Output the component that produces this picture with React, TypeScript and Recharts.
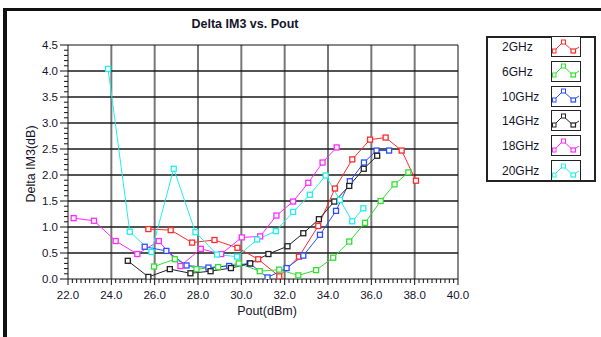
import React from 'react';
import { LineChart, Line, XAxis, YAxis, CartesianGrid } from 'recharts';

// axis ticks
const poutMajor = [22, 24, 26, 28, 30, 32, 34, 36, 38, 40];
const im3Major = [0, 0.5, 1, 1.5, 2, 2.5, 3, 3.5, 4, 4.5];
const poutMinor = Array.from({ length: 91 }, (_, i) => +(22 + i * 0.2).toFixed(1));
const im3Minor = Array.from({ length: 46 }, (_, i) => +(i * 0.1).toFixed(1));

// 2GHz
const pout2 = [25.71, 26.74, 27.73, 28.76, 29.82, 30.78, 31.75, 32.66, 33.55, 34.32, 35.12, 35.94, 36.66, 37.4, 38.06];
const im3_2 = [0.96, 0.94, 0.7, 0.75, 0.6, 0.38, 0.05, 0.43, 1.02, 1.74, 2.3, 2.68, 2.72, 2.47, 1.89];
// 6GHz
const pout6 = [25.97, 26.93, 27.93, 28.93, 29.88, 30.85, 31.75, 32.63, 33.45, 34.24, 34.98, 35.71, 36.43, 37.07, 37.71];
const im3_6 = [0.24, 0.38, 0.19, 0.23, 0.3, 0.15, 0.18, 0.07, 0.17, 0.41, 0.72, 1.08, 1.5, 1.82, 2.05];
// 10GHz
const pout10 = [25.54, 26.54, 27.47, 28.48, 29.44, 30.38, 31.21, 32.09, 32.86, 33.63, 34.37, 35.01, 35.66, 36.24, 36.82];
const im3_10 = [0.62, 0.54, 0.26, 0.22, 0.25, 0.3, 0.03, 0.21, 0.45, 0.85, 1.31, 1.88, 2.24, 2.47, 2.47];
// 14GHz
const pout14 = [24.76, 25.71, 26.7, 27.65, 28.58, 29.52, 30.41, 31.25, 32.13, 32.86, 33.58, 34.29, 34.98, 35.65, 36.27];
const im3_14 = [0.35, 0.04, 0.19, 0.11, 0.15, 0.21, 0.3, 0.48, 0.63, 0.88, 1.15, 1.49, 1.79, 2.12, 2.37];
// 18GHz
const pout18 = [22.26, 23.2, 24.2, 25.2, 26.19, 27.19, 28.13, 29.07, 30.02, 30.87, 31.62, 32.39, 33.09, 33.75, 34.4];
const im3_18 = [1.17, 1.12, 0.73, 0.48, 0.73, 0.25, 0.58, 0.48, 0.8, 0.82, 1.22, 1.49, 1.85, 2.24, 2.53];
// 20GHz
const pout20 = [23.85, 24.85, 25.85, 26.88, 27.88, 28.88, 29.8, 30.73, 31.59, 32.39, 33.16, 33.89, 34.55, 35.12, 35.63];
const im3_20 = [4.04, 0.91, 0.52, 2.12, 0.9, 0.47, 0.43, 0.76, 0.92, 1.29, 1.62, 1.99, 1.52, 1.11, 1.36];

const toPoints = (xs: number[], ys: number[]) => xs.map((x, i) => ({ pout: x, im3: ys[i] }));

const series = [
  { name: '2GHz', color: '#ff2a2a', data: toPoints(pout2, im3_2) },
  { name: '6GHz', color: '#30e030', data: toPoints(pout6, im3_6) },
  { name: '10GHz', color: '#2a4cff', data: toPoints(pout10, im3_10) },
  { name: '14GHz', color: '#222222', data: toPoints(pout14, im3_14) },
  { name: '18GHz', color: '#ff2aff', data: toPoints(pout18, im3_18) },
  { name: '20GHz', color: '#22eeee', data: toPoints(pout20, im3_20) },
];

const font = '"Liberation Sans", Arial, sans-serif';
const textColor = '#15152a';

const isMajor = (v: number, step: number) => Math.abs(v / step - Math.round(v / step)) < 1e-6;

const XTick = (props: any) => {
  const { x, y, payload } = props;
  const major = isMajor(payload.value, 2);
  return (
    <g>
      <line x1={x} x2={x} y1={y} y2={y + (major ? 6 : 4)} stroke="#111" />
      {major && (
        <text x={x} y={y + 20} textAnchor="middle" fontSize={11.5} fontFamily={font} fill={textColor}>
          {payload.value.toFixed(1)}
        </text>
      )}
    </g>
  );
};

const YTick = (props: any) => {
  const { x, y, payload } = props;
  const major = isMajor(payload.value, 0.5);
  return (
    <g>
      <line x1={x - (major ? 8 : 4)} x2={x} y1={y} y2={y} stroke="#111" />
      {major && (
        <text x={x - 10} y={y + 4} textAnchor="end" fontSize={11.5} fontFamily={font} fill={textColor}>
          {payload.value.toFixed(1)}
        </text>
      )}
    </g>
  );
};

const makeDot = (color: string) => (p: any) => (
  <rect key={p.index} x={p.cx - 2.5} y={p.cy - 2.5} width={5} height={5} fill="#fff" stroke={color} strokeWidth={1.3} />
);

const LegendIcon = ({ color }: { color: string }) => (
  <svg width={30} height={21} style={{ display: 'block' }}>
    <polyline points="3,15 12,6 22,15 28,11" fill="none" stroke={color} strokeWidth={1} />
    <rect x={1.5} y={13} width={3.5} height={4} fill="#fff" stroke={color} strokeWidth={1} />
    <rect x={10.5} y={4} width={4} height={4} fill="#fff" stroke={color} strokeWidth={1} />
    <rect x={20} y={13} width={4.5} height={4} fill="#fff" stroke={color} strokeWidth={1.2} />
  </svg>
);

const App = () => {
  return (
    <div style={{ position: 'absolute', left: 0, top: 0, width: 601, height: 337, overflow: 'hidden', background: '#fff', fontFamily: font }}>
      {/* outer frame */}
      <div style={{ position: 'absolute', left: 3, top: 8, width: 700, height: 400, borderLeft: '4px solid #111', borderTop: '3px solid #111' }} />

      <div style={{ position: 'absolute', left: 0, top: 0 }}>
        <LineChart width={601} height={337} margin={{ top: 45, right: 143, bottom: 0, left: 0 }}>
          <CartesianGrid horizontal={false} verticalValues={poutMajor.slice(1, -1)} stroke="#777" strokeWidth={2} />
          <CartesianGrid vertical={false} horizontalValues={im3Major.slice(1, -1)} stroke="#1a1a1a" strokeWidth={1.5} />
          {/* plot frame: top and right edges */}
          <CartesianGrid
            horizontalValues={im3Major.slice(-1)}
            verticalValues={poutMajor.slice(-1)}
            stroke="#111"
            strokeWidth={1}
          />
          <XAxis
            dataKey="pout"
            type="number"
            domain={[22, 40]}
            ticks={poutMinor}
            interval={0}
            allowDataOverflow
            height={58}
            tickSize={0}
            tickMargin={0}
            tick={<XTick />}
            axisLine={{ stroke: '#111' }}
          />
          <YAxis
            dataKey="im3"
            type="number"
            domain={[0, 4.5]}
            ticks={im3Minor}
            interval={0}
            allowDataOverflow
            width={68}
            tickSize={0}
            tickMargin={0}
            tick={<YTick />}
            axisLine={{ stroke: '#111' }}
          />
          {series.map((s) => (
            <Line
              key={s.name}
              data={s.data}
              dataKey="im3"
              type="linear"
              stroke={s.color}
              strokeWidth={1}
              dot={makeDot(s.color)}
              activeDot={false}
              isAnimationActive={false}
            />
          ))}
        </LineChart>
      </div>

      {/* title and axis labels */}
      <div style={{ position: 'absolute', left: 145, width: 200, top: 17, textAlign: 'center', fontWeight: 'bold', fontSize: 12.5, color: textColor }}>
        Delta IM3 vs. Pout
      </div>
      <div style={{ position: 'absolute', left: 167, width: 200, top: 304, textAlign: 'center', fontSize: 12.5, color: textColor }}>
        Pout(dBm)
      </div>
      <div
        style={{
          position: 'absolute',
          left: 31 - 60,
          top: 164 - 8,
          width: 120,
          height: 16,
          lineHeight: '16px',
          textAlign: 'center',
          fontSize: 12.5,
          color: textColor,
          transform: 'rotate(-90deg)',
        }}
      >
        Delta IM3(dB)
      </div>

      {/* legend */}
      <div style={{ position: 'absolute', left: 486, top: 36, width: 110, height: 146, boxSizing: 'border-box', border: '2px solid #222' }} />
      {series.map((s, i) => {
        const top = 36 + i * 24.8;
        return (
          <React.Fragment key={s.name}>
            <div style={{ position: 'absolute', left: 502, top: top + 2, height: 18, lineHeight: '18px', fontSize: 12, color: textColor }}>
              {s.name}
            </div>
            <div style={{ position: 'absolute', left: 551, top, width: 30, height: 21, boxSizing: 'border-box', border: '1.5px solid #222', background: '#fff' }}>
              <div style={{ position: 'absolute', left: -1.5, top: -1.5 }}>
                <LegendIcon color={s.color} />
              </div>
            </div>
          </React.Fragment>
        );
      })}
    </div>
  );
};

export default App;
